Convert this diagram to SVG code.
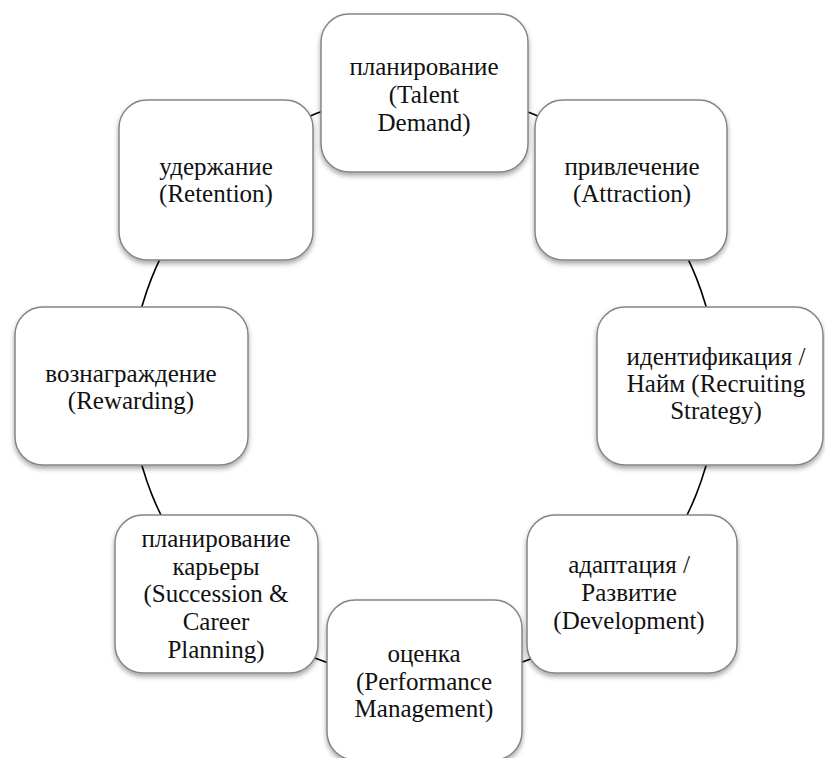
<svg xmlns="http://www.w3.org/2000/svg" width="825" height="758" viewBox="0 0 825 758">
<style>
.box{fill:#ffffff;stroke:#858585;stroke-width:1.5;filter:url(#sh)}
.t{font-family:'Liberation Serif','DejaVu Serif',serif;font-size:25px;fill:#111;text-anchor:middle}
.c{fill:none;stroke:#000;stroke-width:1.6}
</style>
<defs>
<filter id="sh" x="-10%" y="-10%" width="120%" height="125%">
<feDropShadow dx="0" dy="3" stdDeviation="2.5" flood-color="#000" flood-opacity="0.35"/>
</filter>
</defs>
<rect width="825" height="758" fill="#ffffff"/>
<g id="connectors">
<circle class="c" cx="424" cy="386" r="293"/>
</g>
<g font-family="Liberation Serif, DejaVu Serif, serif">
<g id="n-talent-demand">
<rect class="box" x="321" y="14" width="207" height="158" rx="28"/>
<text class="t" x="424" y="75">планирование</text>
<text class="t" x="424" y="103">(Talent</text>
<text class="t" x="424" y="131">Demand)</text>
</g>
<g id="n-attraction">
<rect class="box" x="535" y="100" width="192" height="160" rx="28"/>
<text class="t" x="632" y="175">привлечение</text>
<text class="t" x="632" y="202">(Attraction)</text>
</g>
<g id="n-recruiting">
<rect class="box" x="597" y="307" width="226" height="158" rx="28"/>
<text class="t" x="716" y="365">идентификация /</text>
<text class="t" x="716" y="392">Найм (Recruiting</text>
<text class="t" x="716" y="419">Strategy)</text>
</g>
<g id="n-development">
<rect class="box" x="527" y="515" width="210" height="158" rx="28"/>
<text class="t" x="629" y="573">адаптация /</text>
<text class="t" x="629" y="601">Развитие</text>
<text class="t" x="629" y="629">(Development)</text>
</g>
<g id="n-performance">
<rect class="box" x="327" y="600" width="195" height="160" rx="28"/>
<text class="t" x="424" y="662">оценка</text>
<text class="t" x="424" y="690">(Performance</text>
<text class="t" x="424" y="717">Management)</text>
</g>
<g id="n-career">
<rect class="box" x="115" y="515" width="203" height="158" rx="28"/>
<text class="t" x="216" y="547">планирование</text>
<text class="t" x="216" y="575">карьеры</text>
<text class="t" x="216" y="602">(Succession &amp;</text>
<text class="t" x="216" y="630">Career</text>
<text class="t" x="216" y="658">Planning)</text>
</g>
<g id="n-rewarding">
<rect class="box" x="15" y="307" width="233" height="158" rx="28"/>
<text class="t" x="131" y="382">вознаграждение</text>
<text class="t" x="131" y="409">(Rewarding)</text>
</g>
<g id="n-retention">
<rect class="box" x="119" y="100" width="194" height="160" rx="28"/>
<text class="t" x="216" y="175">удержание</text>
<text class="t" x="216" y="202">(Retention)</text>
</g>
</g>
</svg>
